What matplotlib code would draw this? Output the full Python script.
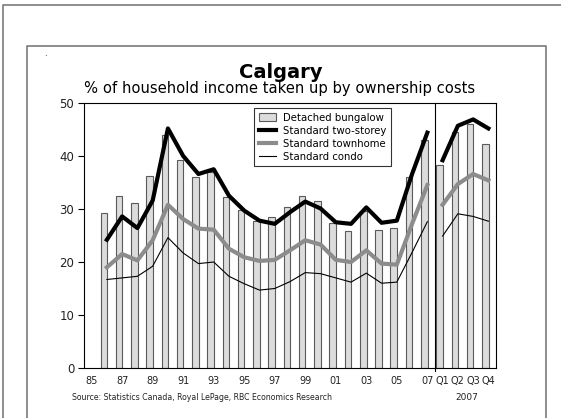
import numpy as np
import matplotlib
matplotlib.use('Agg')
import matplotlib.pyplot as plt
from matplotlib.lines import Line2D

# annual data 1986-2007 (1985 slot is empty)
years = ['85', '86', '87', '88', '89', '90', '91', '92', '93', '94', '95', '96',
         '97', '98', '99', '00', '01', '02', '03', '04', '05', '06', '07']
quarters = ['Q1', 'Q2', 'Q3', 'Q4']

bungalow = [29.3, 32.4, 31.1, 36.3, 44.0, 39.2, 36.0, 36.9, 32.3, 29.8, 27.8,
            28.5, 30.4, 32.5, 31.5, 27.4, 25.9, 29.7, 26.1, 26.4, 36.1, 43.0]
two_storey = [24.2, 28.6, 26.4, 31.6, 45.2, 40.0, 36.6, 37.5, 32.5, 29.7, 27.8,
              27.2, 29.4, 31.4, 30.1, 27.5, 27.2, 30.3, 27.4, 27.8, 36.6, 44.4]
townhome = [19.0, 21.5, 20.3, 24.1, 30.8, 28.1, 26.3, 26.1, 22.5, 20.9, 20.2,
            20.4, 22.2, 24.1, 23.3, 20.4, 20.0, 22.2, 19.7, 19.5, 27.2, 34.5]
condo = [16.7, 17.0, 17.3, 19.2, 24.6, 21.7, 19.7, 20.0, 17.3, 15.9, 14.7,
         15.0, 16.3, 18.0, 17.8, 17.0, 16.2, 17.9, 16.0, 16.2, 21.8, 27.6]

# 2007 quarterly
q_bungalow = [38.3, 44.6, 46.1, 42.2]
q_two_storey = [39.2, 45.7, 46.9, 45.2]
q_townhome = [30.8, 34.7, 36.6, 35.4]
q_condo = [24.9, 29.1, 28.6, 27.7]

W, H = 561, 418
fig = plt.figure(figsize=(W / 100, H / 100), dpi=100)

def fx(px):
    return px / W

def fy(py):
    return 1 - py / H

# slide frames
frame = '#7a7a7a'
fig.add_artist(Line2D([1, fx(3), fx(3)], [fy(4.5), fy(4.5), 0], color=frame, lw=1.2))
fig.add_artist(Line2D([fx(27), fx(27), fx(546), fx(546)], [0, fy(46), fy(46), 0],
                      color=frame, lw=1.2))

ax = fig.add_axes([fx(84), fy(368), fx(496) - fx(84), fy(103) - fy(368)])

ann_x = np.arange(1, len(years))
q_x = np.arange(len(years), len(years) + len(quarters))

bar_w = 0.43
b1 = ax.bar(ann_x - 0.2, bungalow, width=bar_w, color='#dcdcdc', edgecolor='#5a5a5a',
            linewidth=0.8, zorder=2)
ax.bar(q_x - 0.2, q_bungalow, width=bar_w, color='#dcdcdc', edgecolor='#5a5a5a',
       linewidth=0.8, zorder=2)

l1, = ax.plot(ann_x, two_storey, color='black', lw=3.0, solid_joinstyle='round', zorder=4)
ax.plot(q_x, q_two_storey, color='black', lw=3.0, solid_joinstyle='round', zorder=4)
l2, = ax.plot(ann_x, townhome, color='#8c8c8c', lw=3.0, solid_joinstyle='round', zorder=3)
ax.plot(q_x, q_townhome, color='#8c8c8c', lw=3.0, solid_joinstyle='round', zorder=3)
l3, = ax.plot(ann_x, condo, color='black', lw=0.8, zorder=3)
ax.plot(q_x, q_condo, color='black', lw=0.8, zorder=3)

# split between annual and quarterly
ax.axvline(len(years) - 0.5, ymin=-0.012, ymax=1, color='black', lw=0.8,
           clip_on=False, zorder=5)

ax.set_xlim(-0.5, len(years) + len(quarters) - 0.5)
ax.set_ylim(0, 50)
ax.set_yticks(range(0, 51, 10))
tick_pos = list(range(0, len(years), 2)) + list(q_x)
tick_lab = [years[i] for i in range(0, len(years), 2)] + quarters
ax.set_xticks(tick_pos)
ax.set_xticklabels(tick_lab)
ax.tick_params(axis='x', length=0, pad=6, labelsize=7, colors='#222222')
ax.tick_params(axis='y', length=4, width=0.8, pad=3, labelsize=8.5, colors='#222222')
ax.tick_params(axis='y', color='black')
for s in ax.spines.values():
    s.set_linewidth(0.8)
    s.set_color('black')

leg = ax.legend([b1, l1, l2, l3],
                ['Detached bungalow', 'Standard two-storey', 'Standard townhome',
                 'Standard condo'],
                loc='upper left', bbox_to_anchor=(fx(254), fy(108)),
                bbox_transform=fig.transFigure, fontsize=7.3, frameon=True,
                fancybox=False, borderpad=0.45, labelspacing=0.3,
                handlelength=1.7, handleheight=0.8, handletextpad=0.7,
                borderaxespad=0)
leg.get_frame().set_edgecolor('black')
leg.get_frame().set_linewidth(0.8)

fig.text(fx(281), fy(73), 'Calgary', ha='center', va='center', fontsize=14,
         fontweight='bold')
fig.text(fx(279.5), fy(89), '% of household income taken up by ownership costs',
         ha='center', va='center', fontsize=10.6)
fig.text(fx(45), fy(53), '.', ha='center', va='center', fontsize=6)
fig.text(fx(72), fy(398), 'Source: Statistics Canada, Royal LePage, RBC Economics Research',
         ha='left', va='center', fontsize=5.6, color='#222222')
fig.text(fx(467), fy(397), '2007', ha='center', va='center', fontsize=6.5,
         color='#222222')

fig.savefig('out.png', dpi=100)
